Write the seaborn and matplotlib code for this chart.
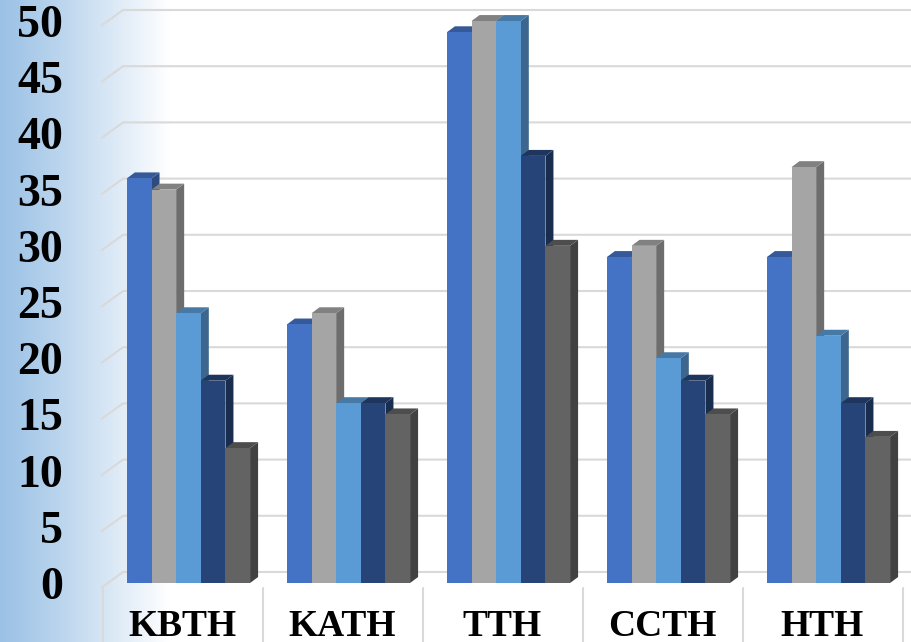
import numpy as np
import pandas as pd
import matplotlib
matplotlib.use("Agg")
import matplotlib.pyplot as plt
from matplotlib.patches import Polygon
from matplotlib.colors import to_rgb
import seaborn as sns

# Survey counts per hospital, five series each
hospitals = ["KBTH", "KATH", "TTH", "CCTH", "HTH"]
series_names = ["S1", "S2", "S3", "S4", "S5"]
s1 = [36, 23, 49, 29, 29]
s2 = [35, 24, 50, 30, 37]
s3 = [24, 16, 50, 20, 22]
s4 = [18, 16, 38, 18, 16]
s5 = [12, 15, 30, 15, 13]
y_ticks = list(range(0, 51, 5))

palette = ["#4472c4", "#a5a5a5", "#5b9bd5", "#264478", "#636363"]

rows = []
for name, vals in zip(series_names, [s1, s2, s3, s4, s5]):
    for h, v in zip(hospitals, vals):
        rows.append({"hospital": h, "series": name, "value": v})
df = pd.DataFrame(rows)

sns.set_theme(style="white")
plt.rcParams["font.family"] = ["Liberation Serif", "DejaVu Serif"]

fig = plt.figure(figsize=(9.12, 6.42), dpi=100)
fig.patch.set_facecolor("white")

# soft blue wash on the left edge of the chart area
grad = np.linspace(0, 1, 512)
c0 = np.array([0.61, 0.76, 0.90])
c1 = np.array([1.0, 1.0, 1.0])
t = np.clip(grad / 0.185, 0, 1) ** 1.1
img = (c0[None, :] * (1 - t[:, None]) + c1[None, :] * t[:, None])[None, :, :]
bg = fig.add_axes([0, 0, 1, 1], zorder=0)
bg.imshow(img, aspect="auto", extent=[0, 1, 0, 1], interpolation="bilinear")
bg.set_axis_off()

ax = fig.add_axes([0, 0, 1, 1], zorder=1)
ax.patch.set_alpha(0)

sns.barplot(data=df, x="hospital", y="value", hue="series", order=hospitals,
            hue_order=series_names, palette=palette, width=0.77, gap=0,
            dodge=True, linewidth=0, saturation=1, legend=False, ax=ax)

xmin, xmax = -1.178, 4.522
ymin, ymax = -5.25, 51.87
ax.set_xlim(xmin, xmax)
ax.set_ylim(ymin, ymax)
ax.set_axis_off()

# depth of each column in data units
dx, dy = 0.05, 0.53

def shade(c, f):
    r, g, b = to_rgb(c)
    return (r * f, g * f, b * f)

bars = sorted([p for p in ax.patches if p.get_height() > 0], key=lambda p: p.get_x())
for rank, p in enumerate(bars):
    x0, w, h = p.get_x(), p.get_width(), p.get_height()
    col = p.get_facecolor()
    base = 3 + rank * 0.1
    side = Polygon([(x0 + w, 0), (x0 + w + dx, dy), (x0 + w + dx, h + dy), (x0 + w, h)],
                   closed=True, facecolor=shade(col, 0.66), edgecolor="none", zorder=base)
    top = Polygon([(x0, h), (x0 + w, h), (x0 + w + dx, h + dy), (x0 + dx, h + dy)],
                  closed=True, facecolor=shade(col, 0.78), edgecolor="none", zorder=base + 0.01)
    ax.add_patch(side)
    ax.add_patch(top)
    p.set_zorder(base + 0.02)

# back wall gridlines with the slanted side wall
back_off, front_off = 0.98, -0.44
x_front, x_back = -0.547, -0.409
grid_col = "#d9d9d9"
for v in y_ticks:
    ax.plot([x_front, x_back, xmax + 0.1], [v + front_off, v + back_off, v + back_off],
            color=grid_col, lw=1.5, zorder=1, solid_capstyle="butt")
    ax.text(-0.785, v + front_off, str(v), ha="right", va="center",
            fontsize=33, fontweight="bold", color="black", zorder=5)

# category separators under the floor
for k in range(len(hospitals) + 1):
    xs = k - 0.5 - 0.037
    ax.plot([xs, xs], [front_off, ymin], color=grid_col, lw=1.5, zorder=1)

for i, h in enumerate(hospitals):
    ax.text(i - 0.04, -3.85, h, ha="center", va="center", fontsize=27,
            fontweight="bold", color="black", zorder=5)

fig.savefig("out.png", dpi=100)
